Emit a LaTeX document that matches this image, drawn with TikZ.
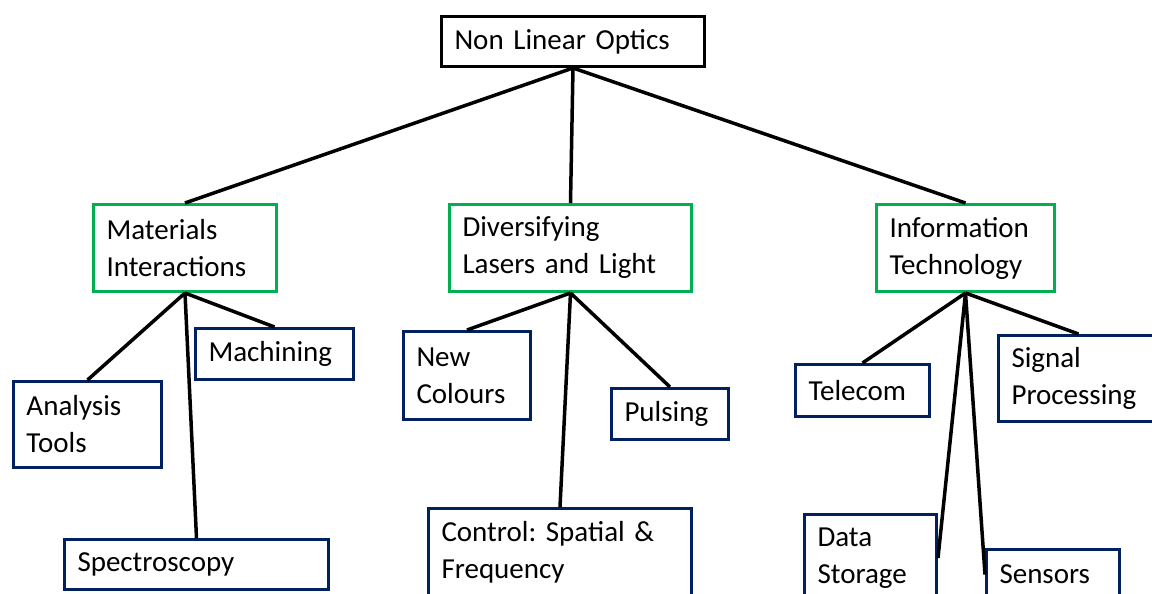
\documentclass[tikz,border=0pt]{standalone}
\usepackage{fontspec}
\setmainfont{Carlito}
\frenchspacing
\definecolor{boxgreen}{HTML}{00B050}
\definecolor{boxblue}{HTML}{002060}
\begin{document}
\begin{tikzpicture}[x=1pt,y=-1pt,
  box/.style={draw, line width=3pt, anchor=north west, inner xsep=13pt, inner ysep=0pt,
    align=left, font=\fontsize{29}{37}\selectfont\frenchspacing, fill=white},
  topbox/.style={box, draw=black},
  midbox/.style={box, draw=boxgreen},
  leafbox/.style={box, draw=boxblue},
  conn/.style={line width=3.5pt, black}]
\useasboundingbox (0,0) rectangle (1152,594);
\clip (0,0) rectangle (1152,594);
\fill[white] (0,0) rectangle (1152,594);
% nodes
\node[topbox, minimum width=263pt, minimum height=50pt, text width=237pt] (nlo) at (440,15) {Non Linear Optics};
\node[midbox, minimum width=183pt, minimum height=87pt, text width=157pt] (mat) at (92,203) {Materials\\Interactions};
\node[midbox, minimum width=242pt, minimum height=87pt, text width=216pt] (div) at (448,203) {Diversifying\\Lasers and Light};
\node[midbox, minimum width=178pt, minimum height=87pt, text width=152pt] (it) at (875,203) {Information\\Technology};
\node[leafbox, minimum width=158pt, minimum height=51pt, text width=132pt] (mach) at (194,327) {Machining};
\node[leafbox, minimum width=148pt, minimum height=86pt, text width=122pt] (ana) at (12,380) {Analysis\\Tools};
\node[leafbox, minimum width=264pt, minimum height=50pt, text width=238pt] (spec) at (63,538) {Spectroscopy};
\node[leafbox, minimum width=127pt, minimum height=88pt, text width=101pt] (newc) at (402,330) {New\\Colours};
\node[leafbox, minimum width=117pt, minimum height=51pt, text width=91pt] (puls) at (610,387) {Pulsing};
\node[leafbox, minimum width=263pt, minimum height=87pt, text width=237pt] (ctrl) at (427,507) {Control: Spatial \&\\Frequency};
\node[leafbox, minimum width=134pt, minimum height=52pt, text width=108pt] (tel) at (794,363) {Telecom};
\node[leafbox, minimum width=160pt, minimum height=86pt, text width=134pt] (sig) at (997,334) {Signal\\Processing};
\node[leafbox, minimum width=132pt, minimum height=87pt, text width=106pt] (ds) at (803,513) {Data\\Storage};
\node[leafbox, minimum width=133pt, minimum height=50pt, text width=107pt] (sens) at (985,548) {Sensors};
% connectors
\draw[conn] (nlo.south) -- (mat.north);
\draw[conn] (nlo.south) -- (div.north);
\draw[conn] (nlo.south) -- (it.north);
\draw[conn] (mat.south) -- (mach.north);
\draw[conn] (mat.south) -- (ana.north);
\draw[conn] (mat.south) -- (spec.north);
\draw[conn] (div.south) -- (newc.north);
\draw[conn] (div.south) -- (puls.north);
\draw[conn] (div.south) -- (ctrl.north);
\draw[conn] (it.south) -- (tel.north);
\draw[conn] (it.south) -- (sig.north);
\draw[conn] (it.south) -- (ds.east);
\draw[conn] (it.south) -- (sens.west);
\end{tikzpicture}
\end{document}
